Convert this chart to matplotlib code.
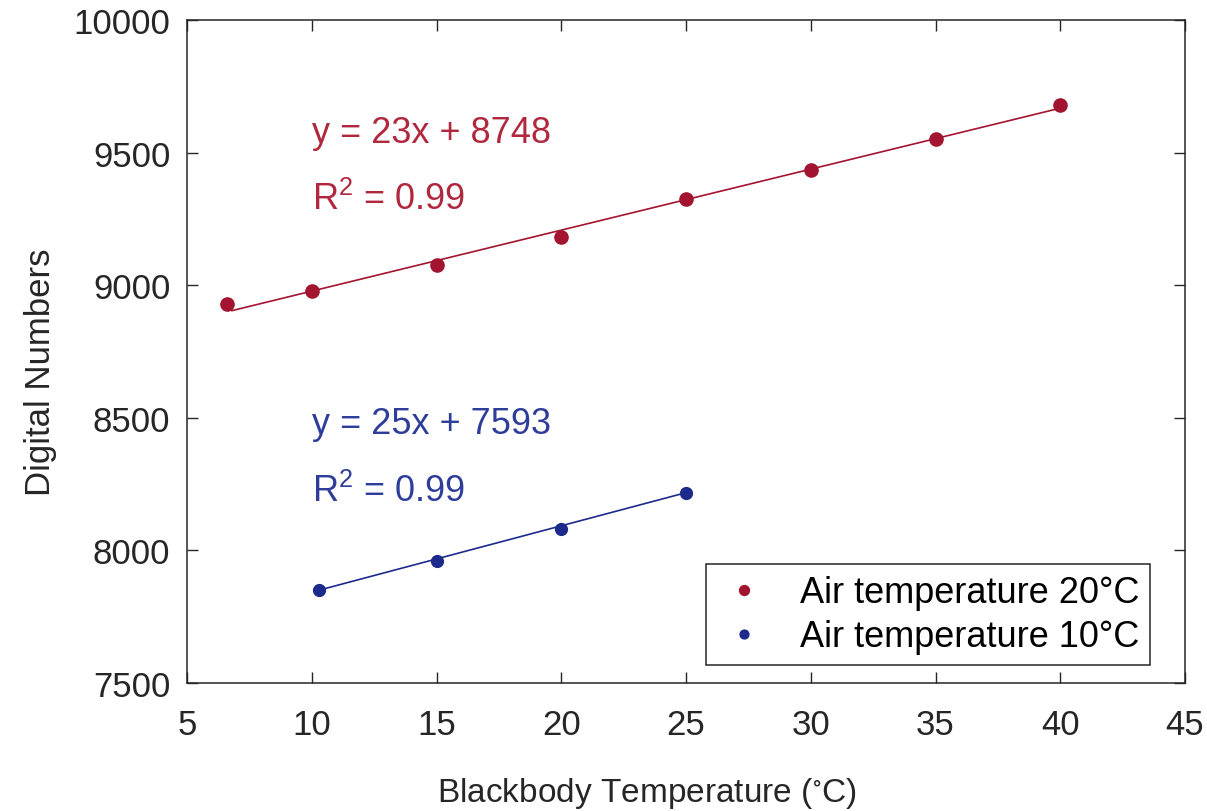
import matplotlib.pyplot as plt
import numpy as np

# --- data ---
bb_20 = [6.6, 10, 15, 20, 25, 30, 35, 40]
dn_20 = [8930, 8979, 9077, 9182, 9324, 9433, 9553, 9681]
bb_10 = [10.3, 15, 20, 25]
dn_10 = [7849, 7962, 8082, 8217]
fit_20 = (23, 8748)
fit_10 = (25, 7593)
xticks = [5, 10, 15, 20, 25, 30, 35, 40, 45]
yticks = [7500, 8000, 8500, 9000, 9500, 10000]

plt.rcParams['font.family'] = ['Liberation Sans', 'DejaVu Sans']
plt.rcParams['mathtext.fontset'] = 'custom'
plt.rcParams['mathtext.rm'] = 'Liberation Sans'
plt.rcParams['mathtext.default'] = 'regular'

red = '#a2142f'
blue = '#1c2a8c'
red_txt = '#b0283e'
blue_txt = '#2e3d9a'
axc = '#262626'

fig = plt.figure(figsize=(12.07, 8.12), dpi=100)
ax = fig.add_axes([0.155, 0.1576, 0.8268, 0.8164])

ax.plot(bb_20, dn_20, 'o', color=red, ms=9.5, label='Air temperature 20°C', zorder=3)
ax.plot(bb_10, dn_10, 'o', color=blue, ms=8.5, label='Air temperature 10°C', zorder=3)

# fitted lines
x20 = np.array([6.8, bb_20[-1]])
ax.plot(x20, fit_20[0] * x20 + fit_20[1], color=red, lw=1.2)
x10 = np.array([bb_10[0], bb_10[-1]])
ax.plot(x10, fit_10[0] * x10 + fit_10[1], color=blue, lw=1.2)

ax.text(10, 9576, f'y = {fit_20[0]}x + {fit_20[1]}', color=red_txt, fontsize=26, va='center')
ax.text(10, 9324, 'R$^2$ = 0.99', color=red_txt, fontsize=26, va='center')
ax.text(10, 8480, f'y = {fit_10[0]}x + {fit_10[1]}', color=blue_txt, fontsize=26, va='center')
ax.text(10, 8224, 'R$^2$ = 0.99', color=blue_txt, fontsize=26, va='center')

ax.set_xlim(5, 45)
ax.set_ylim(7500, 10000)
ax.set_xticks(xticks)
ax.set_yticks(yticks)
ax.tick_params(direction='in', length=8, width=1, colors=axc, labelsize=25,
               top=True, right=True)
ax.tick_params(axis='x', pad=18)
ax.tick_params(axis='y', pad=12)
for s in ax.spines.values():
    s.set_color(axc)
    s.set_linewidth(1.1)

ax.set_xlabel('Blackbody Temperature ($^{\\circ}$C)', fontsize=24, color=axc)
ax.set_ylabel('Digital Numbers', fontsize=25, color=axc)
ax.xaxis.set_label_coords(0.461, -0.138)
ax.yaxis.set_label_coords(-0.13, 0.47)

leg = ax.legend(loc='lower right', fontsize=26, frameon=True, fancybox=False,
                edgecolor=axc, framealpha=1, handlelength=1.5, handletextpad=0.8,
                borderpad=0.3, labelspacing=0.25, markerscale=0.75,
                borderaxespad=0, bbox_to_anchor=(0.965, 0.027))
leg.get_frame().set_linewidth(1.1)

plt.savefig('out.png', dpi=100)
